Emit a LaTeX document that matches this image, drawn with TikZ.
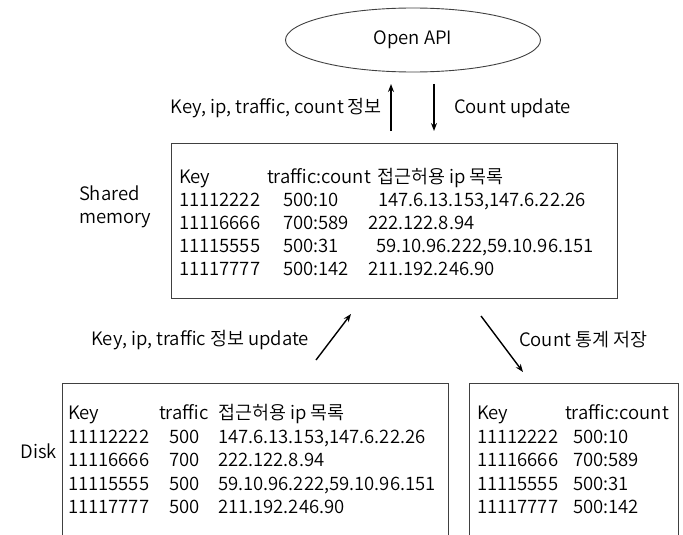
\documentclass[tikz,border=0pt]{standalone}
\usepackage{fontspec}
\setmainfont{Noto Sans CJK KR}[UprightFont={* DemiLight}]
\usetikzlibrary{shapes.geometric,arrows.meta}

% three cells of one table row: name, baseline, then x/text pairs
\newcommand{\tablerow}[8]{%
  \node[cell] (#1a) at (#3,#2) {#4};
  \node[cell] (#1b) at (#5,#2) {#6};
  \node[cell] (#1c) at (#7,#2) {#8};}
% two cells of one table row
\newcommand{\pairrow}[6]{%
  \node[cell] (#1a) at (#3,#2) {#4};
  \node[cell] (#1b) at (#5,#2) {#6};}

\begin{document}
\begin{tikzpicture}[x=1pt, y=-1pt,
  font=\fontsize{18.5}{22}\selectfont,
  frame/.style={draw=black!75, line width=0.9pt, inner sep=0pt},
  cell/.style={anchor=base west, inner sep=0pt, outer sep=0pt},
  label/.style={inner sep=0pt, outer sep=0pt},
  flow/.style={-{Stealth[length=8pt,width=6pt]}, line width=1.4pt}]
\useasboundingbox (0,0) rectangle (683,535);

% client side
\node[ellipse, frame, minimum width=255pt, minimum height=64pt] (api) at (413,40) {Open API};

% shared memory table
\node[frame, anchor=north west, minimum width=446pt, minimum height=155pt] (shm) at (171,143) {};
\node[label, anchor=west, align=left] (shmlabel) at (79,207) {Shared\\[1pt]memory};
\tablerow{sh0}{183}{179}{Key}{267}{traffic:count}{377}{접근허용 ip 목록}
\tablerow{sh1}{206}{179}{11112222}{283}{500:10}{378}{147.6.13.153,147.6.22.26}
\tablerow{sh2}{229}{179}{11116666}{283}{700:589}{368}{222.122.8.94}
\tablerow{sh3}{252}{179}{11115555}{283}{500:31}{376}{59.10.96.222,59.10.96.151}
\tablerow{sh4}{275}{179}{11117777}{283}{500:142}{368}{211.192.246.90}

% disk tables (open at the bottom edge)
\node[frame, anchor=north west, minimum width=386pt, minimum height=220pt] (disk) at (62,383) {};
\node[label, anchor=east] (disklabel) at (57,451) {Disk};
\tablerow{dk0}{419}{68}{Key}{159}{traffic}{218}{접근허용 ip 목록}
\tablerow{dk1}{443}{68}{11112222}{169}{500}{218}{147.6.13.153,147.6.22.26}
\tablerow{dk2}{466}{68}{11116666}{169}{700}{218}{222.122.8.94}
\tablerow{dk3}{490}{68}{11115555}{169}{500}{218}{59.10.96.222,59.10.96.151}
\tablerow{dk4}{513}{68}{11117777}{169}{500}{218}{211.192.246.90}

\node[frame, anchor=north west, minimum width=209pt, minimum height=220pt] (stat) at (469,383) {};
\pairrow{st0}{419}{477}{Key}{565}{traffic:count}
\pairrow{st1}{443}{477}{11112222}{573}{500:10}
\pairrow{st2}{466}{477}{11116666}{573}{700:589}
\pairrow{st3}{490}{477}{11115555}{573}{500:31}
\pairrow{st4}{513}{477}{11117777}{573}{500:142}

% connector end points
\coordinate (upS) at (391,131);
\coordinate (upE) at (391,84);
\coordinate (dnS) at (434,84);
\coordinate (dnE) at (434,131);
\coordinate (ldS) at (316,360);
\coordinate (ldE) at (351,314);
\coordinate (rdS) at (481,316);
\coordinate (rdE) at (523,372);

\draw[flow] (upS) -- (upE);
\draw[flow] (dnS) -- (dnE);
\draw[flow] (ldS) -- (ldE);
\draw[flow] (rdS) -- (rdE);

\node[label, anchor=east] (upLabel) at (382,108) {Key, ip, traffic, count 정보};
\node[label, anchor=west] (dnLabel) at (454,108) {Count update};
\node[label, anchor=east] (ldLabel) at (309,340) {Key, ip, traffic 정보 update};
\node[label, anchor=west] (rdLabel) at (519,340) {Count 통계 저장};
\end{tikzpicture}
\end{document}
